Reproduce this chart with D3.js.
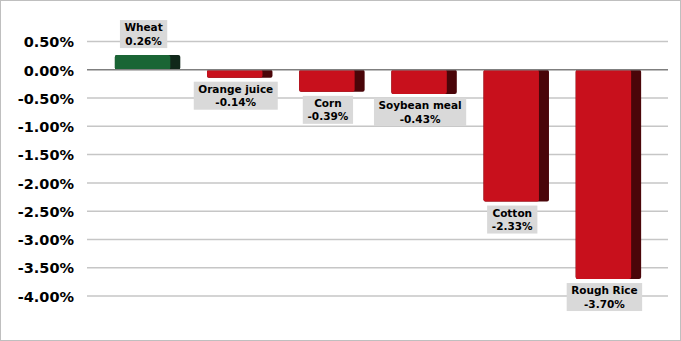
<!DOCTYPE html>
<html><head><meta charset="utf-8">
<script src="https://cdn.jsdelivr.net/npm/d3@7"></script>
<style>body{margin:0;background:#fff}svg{display:block}</style>
</head><body><div id="c"></div>
<script>
const categories = ["Wheat","Orange juice","Corn","Soybean meal","Cotton","Rough Rice"];
const values = [0.26,-0.14,-0.39,-0.43,-2.33,-3.70];
const tickValues = [0.5,0,-0.5,-1,-1.5,-2,-2.5,-3,-3.5,-4];

const W=681,H=341;
const svg=d3.select("#c").append("svg").attr("width",W).attr("height",H);
svg.append("rect").attr("x",0.5).attr("y",0.5).attr("width",W-1).attr("height",H-1)
  .attr("fill","#fff").attr("stroke","#bfbfbf");

const y=d3.scaleLinear().domain([0.5,-4]).range([41.5,296]);
const x=d3.scaleBand().domain(categories).range([101.5,654.5]).paddingInner(0.29).paddingOuter(0.145);
const gridX0=87,gridX1=668;
const font="'DejaVu Sans', Verdana, sans-serif";
const fmt=d=>d3.format(".2f")(d).replace("\u2212","-")+"%";

const g=svg.append("g");
g.selectAll("line.grid").data(tickValues.filter(d=>d!==0)).join("line")
  .attr("x1",gridX0).attr("x2",gridX1).attr("y1",d=>y(d)).attr("y2",d=>y(d))
  .attr("stroke","#c6c6c6").attr("stroke-width",1.5);

const yAxis=d3.axisLeft(y).tickValues(tickValues).tickSize(0).tickPadding(0).tickFormat(fmt);
const ay=svg.append("g").attr("transform","translate(74,0)").call(yAxis);
ay.select(".domain").remove();
ay.selectAll("text").attr("font-family",font).attr("font-weight","bold").attr("font-size",14.5)
  .attr("fill","#000").attr("dy","0.36em");

const sideW=10;
const bw=x.bandwidth();
const bars=g.selectAll("g.bar").data(categories.map((c,i)=>({c,v:values[i]}))).join("g");
bars.append("rect")
  .attr("x",d=>x(d.c)).attr("width",bw)
  .attr("y",d=>Math.min(y(d.v),y(0))).attr("height",d=>Math.abs(y(d.v)-y(0)))
  .attr("rx",2)
  .attr("fill",d=>d.v>=0?"#10271a":"#4a0509");
bars.append("rect")
  .attr("x",d=>x(d.c)).attr("width",bw-sideW)
  .attr("y",d=>Math.min(y(d.v),y(0))).attr("height",d=>Math.abs(y(d.v)-y(0)))
  .attr("rx",2)
  .attr("fill",d=>d.v>=0?"#1a6535":"#c8101c");

g.append("line").attr("x1",gridX0).attr("x2",gridX1).attr("y1",y(0)).attr("y2",y(0))
  .attr("stroke","#7f7f7f").attr("stroke-width",1.5);

bars.each(function(d){
  const sel=d3.select(this);
  const cx=x(d.c)+(bw-sideW)/2+1;
  const lab=sel.append("g");
  const t=lab.append("text").attr("font-family",font).attr("font-weight","bold").attr("font-size",10.5)
    .attr("text-anchor","middle").attr("fill","#000");
  t.append("tspan").attr("x",cx).attr("dy",0).text(d.c);
  t.append("tspan").attr("x",cx).attr("dy",13.5).text(fmt(d.v));
  const bb=t.node().getBBox();
  const boxH=28;
  const top = d.v>=0 ? y(d.v)-7-boxH : y(d.v)+4;
  t.attr("transform",`translate(0,${top+11})`);
  const w=bb.width+9;
  lab.insert("rect","text").attr("x",cx-w/2).attr("y",top).attr("width",w).attr("height",boxH)
    .attr("fill","#d9d9d9");
});
</script></body></html>
